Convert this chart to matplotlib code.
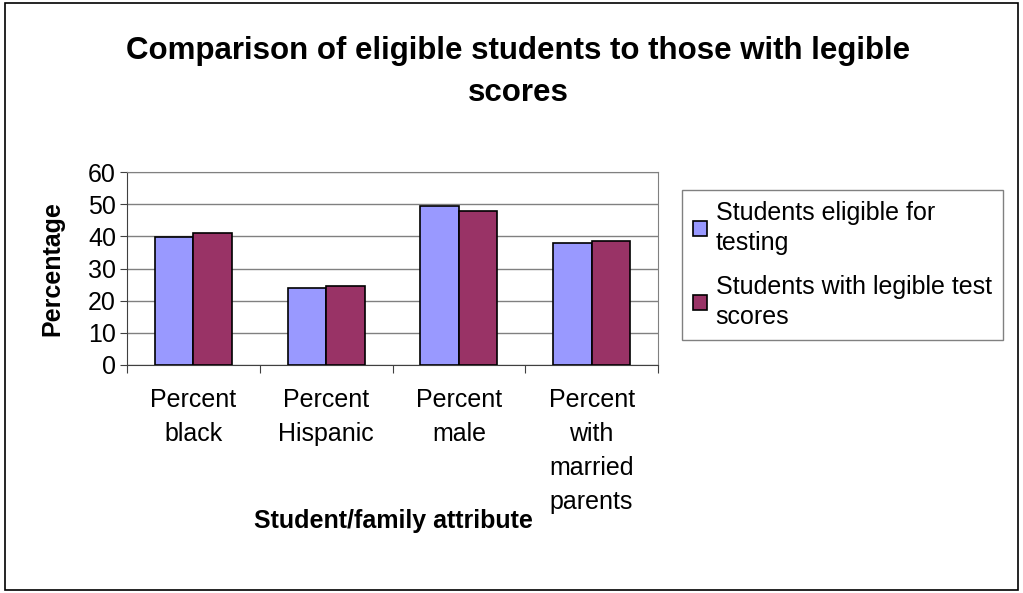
import matplotlib
matplotlib.use("Agg")
import matplotlib.pyplot as plt
import numpy as np
from matplotlib.patches import Rectangle

categories = ["Percent\nblack", "Percent\nHispanic", "Percent\nmale", "Percent\nwith\nmarried\nparents"]
series_names = ["Students eligible for\ntesting", "Students with legible test\nscores"]
eligible = [39.8, 24.0, 49.3, 37.9]
legible = [41.1, 24.6, 48.0, 38.5]
yticks = [0, 10, 20, 30, 40, 50, 60]

plt.rcParams['font.family'] = ['Liberation Sans', 'DejaVu Sans']

fig = plt.figure(figsize=(10.23, 5.93), dpi=100)
fig.patch.set_facecolor('white')
fig.add_artist(Rectangle((5/1023, 3/593), 1013/1023, 587/593, transform=fig.transFigure,
                         fill=False, edgecolor='black', linewidth=1.2))

ax = fig.add_axes([127/1023, 1-365/593, (658-127)/1023, (365-172)/593])
x = np.arange(len(categories))
w = 0.29
ax.bar(x - w/2, eligible, w, color='#9999FF', edgecolor='black', linewidth=1.2, label=series_names[0], zorder=3)
ax.bar(x + w/2, legible, w, color='#993366', edgecolor='black', linewidth=1.2, label=series_names[1], zorder=3)
ax.set_xlim(-0.5, len(categories) - 0.5)
ax.set_ylim(0, 60)
ax.set_yticks(yticks)
ax.set_yticklabels([str(t) for t in yticks], fontsize=18)
ax.yaxis.grid(True, color='#808080', linewidth=1, zorder=0)
ax.set_xticks(np.arange(len(categories) + 1) - 0.5, minor=False)
ax.set_xticklabels([])
ax.tick_params(axis='x', direction='out', length=6, color='#404040')
ax.tick_params(axis='y', direction='out', length=5, color='#404040', pad=3)
for i, c in enumerate(categories):
    ax.text(i, -7.1, c, ha='center', va='top', fontsize=18, linespacing=1.53,
            transform=ax.transData)
for s in ['top', 'right']:
    ax.spines[s].set_color('#808080')
for s in ['left', 'bottom']:
    ax.spines[s].set_color('#404040')
ax.set_ylabel('Percentage', fontsize=18, fontweight='bold', labelpad=17)

fig.text(393/1023, 1-521/593, 'Student/family attribute', ha='center', va='center',
         fontsize=18, fontweight='bold')
fig.text(518/1023, 1-72/593, 'Comparison of eligible students to those with legible\nscores',
         ha='center', va='center', fontsize=22.5, fontweight='bold', linespacing=1.55)

leg = fig.legend(loc='upper left', bbox_to_anchor=(682/1023, 1-190/593), fontsize=18,
                 frameon=True, fancybox=False, edgecolor='#606060', handlelength=0.55,
                 handleheight=0.55, handletextpad=0.35, labelspacing=0.8, borderpad=0.45,
                 borderaxespad=0)
for t in leg.get_texts():
    t.set_linespacing(1.3)
leg.get_frame().set_linewidth(1)

fig.savefig('out.png', dpi=100)
